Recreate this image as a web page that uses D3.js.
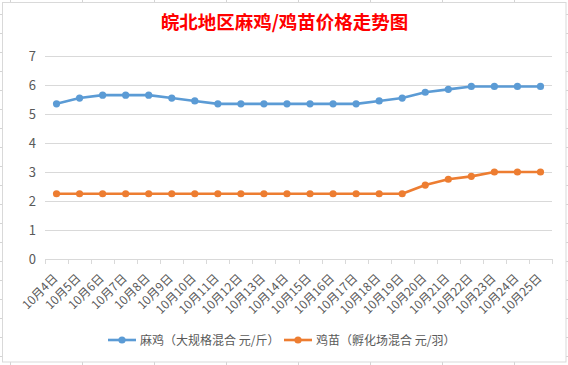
<!DOCTYPE html>
<html><head><meta charset="utf-8">
<script src="https://cdn.jsdelivr.net/npm/d3@7"></script>
<style>body{margin:0;background:#fff}svg{display:block}</style>
</head><body>
<svg id="c" width="568" height="365"></svg>
<script>
const categories = ["10月4日","10月5日","10月6日","10月7日","10月8日","10月9日","10月10日","10月11日","10月12日","10月13日","10月14日","10月15日","10月16日","10月17日","10月18日","10月19日","10月20日","10月21日","10月22日","10月23日","10月24日","10月25日"];
const majiValues = [5.35,5.55,5.65,5.65,5.65,5.55,5.45,5.35,5.35,5.35,5.35,5.35,5.35,5.35,5.45,5.55,5.75,5.85,5.95,5.95,5.95,5.95];
const jimiaoValues = [2.25,2.25,2.25,2.25,2.25,2.25,2.25,2.25,2.25,2.25,2.25,2.25,2.25,2.25,2.25,2.25,2.55,2.75,2.85,3.0,3.0,3.0];
const yTicks = [0,1,2,3,4,5,6,7];
const seriesNames = ["麻鸡（大规格混合 元/斤）","鸡苗（孵化场混合 元/羽）"];
const title = "皖北地区麻鸡/鸡苗价格走势图";

const colors = ["#5B9BD5","#ED7D31"];
const font = "'Noto Sans CJK SC','Noto Sans',sans-serif";
const svg = d3.select("#c");

// spreadsheet background grid
const bg = svg.append("g");
for (let x = 10; x < 568; x += 72) bg.append("line").attr("x1",x+0.5).attr("x2",x+0.5).attr("y1",0).attr("y2",365).attr("stroke","#d4d4d4");
for (let y = 14; y < 365; y += 19) bg.append("line").attr("x1",0).attr("x2",568).attr("y1",y+0.5).attr("y2",y+0.5).attr("stroke","#d4d4d4");

// chart area
svg.append("rect").attr("x",2.5).attr("y",2.5).attr("width",563.5).attr("height",359.5).attr("fill","#fff").attr("stroke","#d9d9d9");

svg.append("text").attr("x",284.5).attr("y",29).attr("text-anchor","middle")
  .attr("font-family",font).attr("font-size",18.5).attr("font-weight","bold").attr("fill","#ff0000").text(title);

const x = d3.scaleBand().domain(categories).range([45,552]);
const y = d3.scaleLinear().domain([0,7]).range([259,56]);

// gridlines
const yAxis = d3.axisLeft(y).tickValues(yTicks).tickSize(-(552-45)).tickFormat(d3.format("d")).tickPadding(9);
const gy = svg.append("g").attr("transform","translate(45,0)").call(yAxis);
gy.select(".domain").remove();
gy.selectAll(".tick line").attr("stroke","#d9d9d9").attr("stroke-width",1);
gy.selectAll(".tick text").attr("font-family",font).attr("font-size",13).attr("fill","#595959");

// x axis
const xAxis = d3.axisBottom(x).tickSize(0).tickFormat(d=>d);
const gx = svg.append("g").attr("transform","translate(0,259)").call(xAxis);
gx.select(".domain").attr("stroke","#d9d9d9");
gx.selectAll(".tick text").attr("font-family",font).attr("font-size",12).attr("fill","#595959")
  .attr("text-anchor","end").attr("dy",0).attr("y",0)
  .attr("transform","translate(2,20) rotate(-45)");
// boundary ticks
const bounds = categories.map(c=>x(c)).concat([x.range()[1]]);
svg.append("g").selectAll("line").data(bounds).join("line")
  .attr("x1",d=>Math.round(d)+0.5).attr("x2",d=>Math.round(d)+0.5).attr("y1",259).attr("y2",264)
  .attr("stroke","#d9d9d9");

// series
const cx = d => x(d) + x.bandwidth()/2;
[majiValues, jimiaoValues].forEach((vals,i)=>{
  const pts = categories.map((c,j)=>[cx(c), y(vals[j])]);
  svg.append("path").attr("d",d3.line()(pts)).attr("fill","none").attr("stroke",colors[i]).attr("stroke-width",2.6).attr("stroke-linejoin","round");
  svg.append("g").selectAll("circle").data(pts).join("circle").attr("cx",d=>d[0]).attr("cy",d=>d[1]).attr("r",3.6).attr("fill",colors[i]);
});

// legend
const legX = [108, 284];
seriesNames.forEach((n,i)=>{
  const g = svg.append("g").attr("transform",`translate(${legX[i]},340)`);
  g.append("line").attr("x1",0).attr("x2",28).attr("stroke",colors[i]).attr("stroke-width",2.6);
  g.append("circle").attr("cx",14).attr("r",3.6).attr("fill",colors[i]);
  g.append("text").attr("x",32).attr("y",4.5).attr("font-family",font).attr("font-size",12).attr("fill","#595959").text(n);
});
</script>
</body></html>
